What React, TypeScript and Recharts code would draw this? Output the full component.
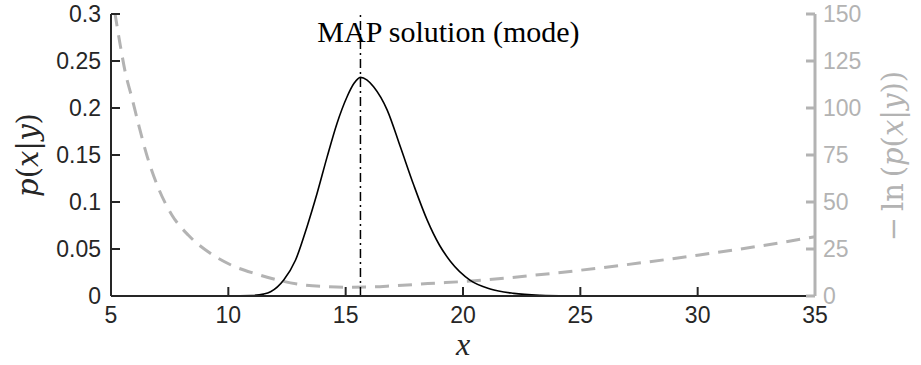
import { LineChart, Line, XAxis, YAxis, ReferenceLine } from 'recharts'

// posterior density p(x|y)
const densityX = [5, 8, 10, 11, 11.5, 11.8, 12.36, 12.86, 13.35, 13.78, 14.21, 14.63, 15.06, 15.35, 15.63, 15.9, 16.19, 16.77, 17.33, 17.9, 18.47, 19.0, 19.46, 20.31, 21.16, 22.16, 23.3, 24.5, 26, 35]
const densityP = [0, 0, 0, 0.0005, 0.002, 0.0045, 0.017, 0.038, 0.0735, 0.109, 0.148, 0.1836, 0.212, 0.226, 0.2326, 0.23, 0.2226, 0.1978, 0.1587, 0.118, 0.081, 0.054, 0.037, 0.0167, 0.0075, 0.0028, 0.0008, 0.0002, 0, 0]

// negative log posterior (right axis)
const negLogX = [5, 5.2, 5.4, 5.6, 5.9, 6.2, 6.5, 7, 7.6, 8.3, 9.2, 10.2, 11.2, 12.2, 13.2, 14.2, 15, 16, 17, 18.5, 20.5, 23, 25, 27.5, 30, 32.5, 35]
const negLogV = [163, 148, 133, 119.5, 105, 90, 76, 58, 43, 32.3, 23, 16, 11.7, 8.2, 5.9, 5, 4.7, 4.8, 5.4, 6.6, 8.1, 11, 13.7, 17.5, 21.7, 26.3, 31.5]

const xTicks = [5, 10, 15, 20, 25, 30, 35]
const leftTicks = [0, 0.05, 0.1, 0.15, 0.2, 0.25, 0.3]
const rightTicks = [0, 25, 50, 75, 100, 125, 150]
const modeX = 15.63
const modeLabel = 'MAP solution (mode)'

const density = densityX.map((x, i) => ({ x, p: densityP[i] }))
const negLog = negLogX.map((x, i) => ({ x, v: negLogV[i] }))

const GRAY = '#b3b3b3'
const INK = '#262626'
const SANS = '"Liberation Sans", Arial, sans-serif'
const SERIF = '"Liberation Serif", "Times New Roman", serif'
const MATH = '"DejaVu Serif", serif'

export default function App() {
  return (
    <div style={{ position: 'absolute', left: 0, top: 0 }}>
      <LineChart width={921} height={365} margin={{ top: 14, right: 46, bottom: 29, left: 51 }}>
        <XAxis
          type="number"
          dataKey="x"
          domain={[5, 35]}
          ticks={xTicks}
          allowDataOverflow
          height={40}
          stroke={INK}
          strokeWidth={2}
          tickSize={-9}
          tickMargin={20}
          tick={{ fill: INK, fontSize: 23, fontFamily: SANS }}
          label={{
            content: ({ viewBox }: any) => (
              <text x={viewBox.x + viewBox.width / 2} y={355} textAnchor="middle" fontFamily={SERIF} fontStyle="italic" fontSize={32} fill={INK}>x</text>
            ),
          }}
        />
        <YAxis
          yAxisId="left"
          domain={[0, 0.3]}
          ticks={leftTicks}
          width={60}
          stroke={INK}
          strokeWidth={2}
          tickSize={-9}
          tickMargin={19}
          tick={{ fill: INK, fontSize: 23, fontFamily: SANS }}
          label={{
            content: ({ viewBox }: any) => {
              const cy = viewBox.y + viewBox.height / 2
              return (
                <text x={38} y={cy} transform={`rotate(-90 38 ${cy})`} textAnchor="middle" fontFamily={MATH} fontSize={29} fill={INK}>
                  <tspan fontStyle="italic">p</tspan>(<tspan fontStyle="italic">x</tspan>|<tspan fontStyle="italic">y</tspan>)
                </text>
              )
            },
          }}
        />
        <YAxis
          yAxisId="right"
          orientation="right"
          domain={[0, 150]}
          ticks={rightTicks}
          allowDataOverflow
          width={60}
          stroke={GRAY}
          strokeWidth={3}
          tickSize={-9}
          tickMargin={17}
          tick={{ fill: GRAY, fontSize: 23, fontFamily: SANS }}
          label={{
            content: ({ viewBox }: any) => {
              const cy = viewBox.y + viewBox.height / 2 + 1
              return (
                <text x={903} y={cy} transform={`rotate(-90 903 ${cy})`} textAnchor="middle" fontFamily={MATH} fontSize={29} fill={GRAY}>
                  {'\u2212\u2009ln\u2009('}<tspan fontStyle="italic">p</tspan>(<tspan fontStyle="italic">x</tspan>|<tspan fontStyle="italic">y</tspan>))
                </text>
              )
            },
          }}
        />
        <Line
          data={negLog}
          dataKey="v"
          yAxisId="right"
          type="monotone"
          stroke={GRAY}
          strokeWidth={3}
          strokeDasharray="14 9"
          dot={false}
          isAnimationActive={false}
        />
        <Line
          data={density}
          dataKey="p"
          yAxisId="left"
          type="monotone"
          stroke="#000"
          strokeWidth={1.6}
          dot={false}
          isAnimationActive={false}
        />
        <ReferenceLine
          x={modeX}
          yAxisId="left"
          stroke="#000"
          strokeWidth={1.5}
          strokeDasharray="9 4 2 4"
          label={{
            content: ({ viewBox }: any) => (
              <text x={viewBox.x + 88} y={42} textAnchor="middle" fontFamily={SERIF} fontSize={30} fill="#000">{modeLabel}</text>
            ),
          }}
        />
      </LineChart>
    </div>
  )
}
